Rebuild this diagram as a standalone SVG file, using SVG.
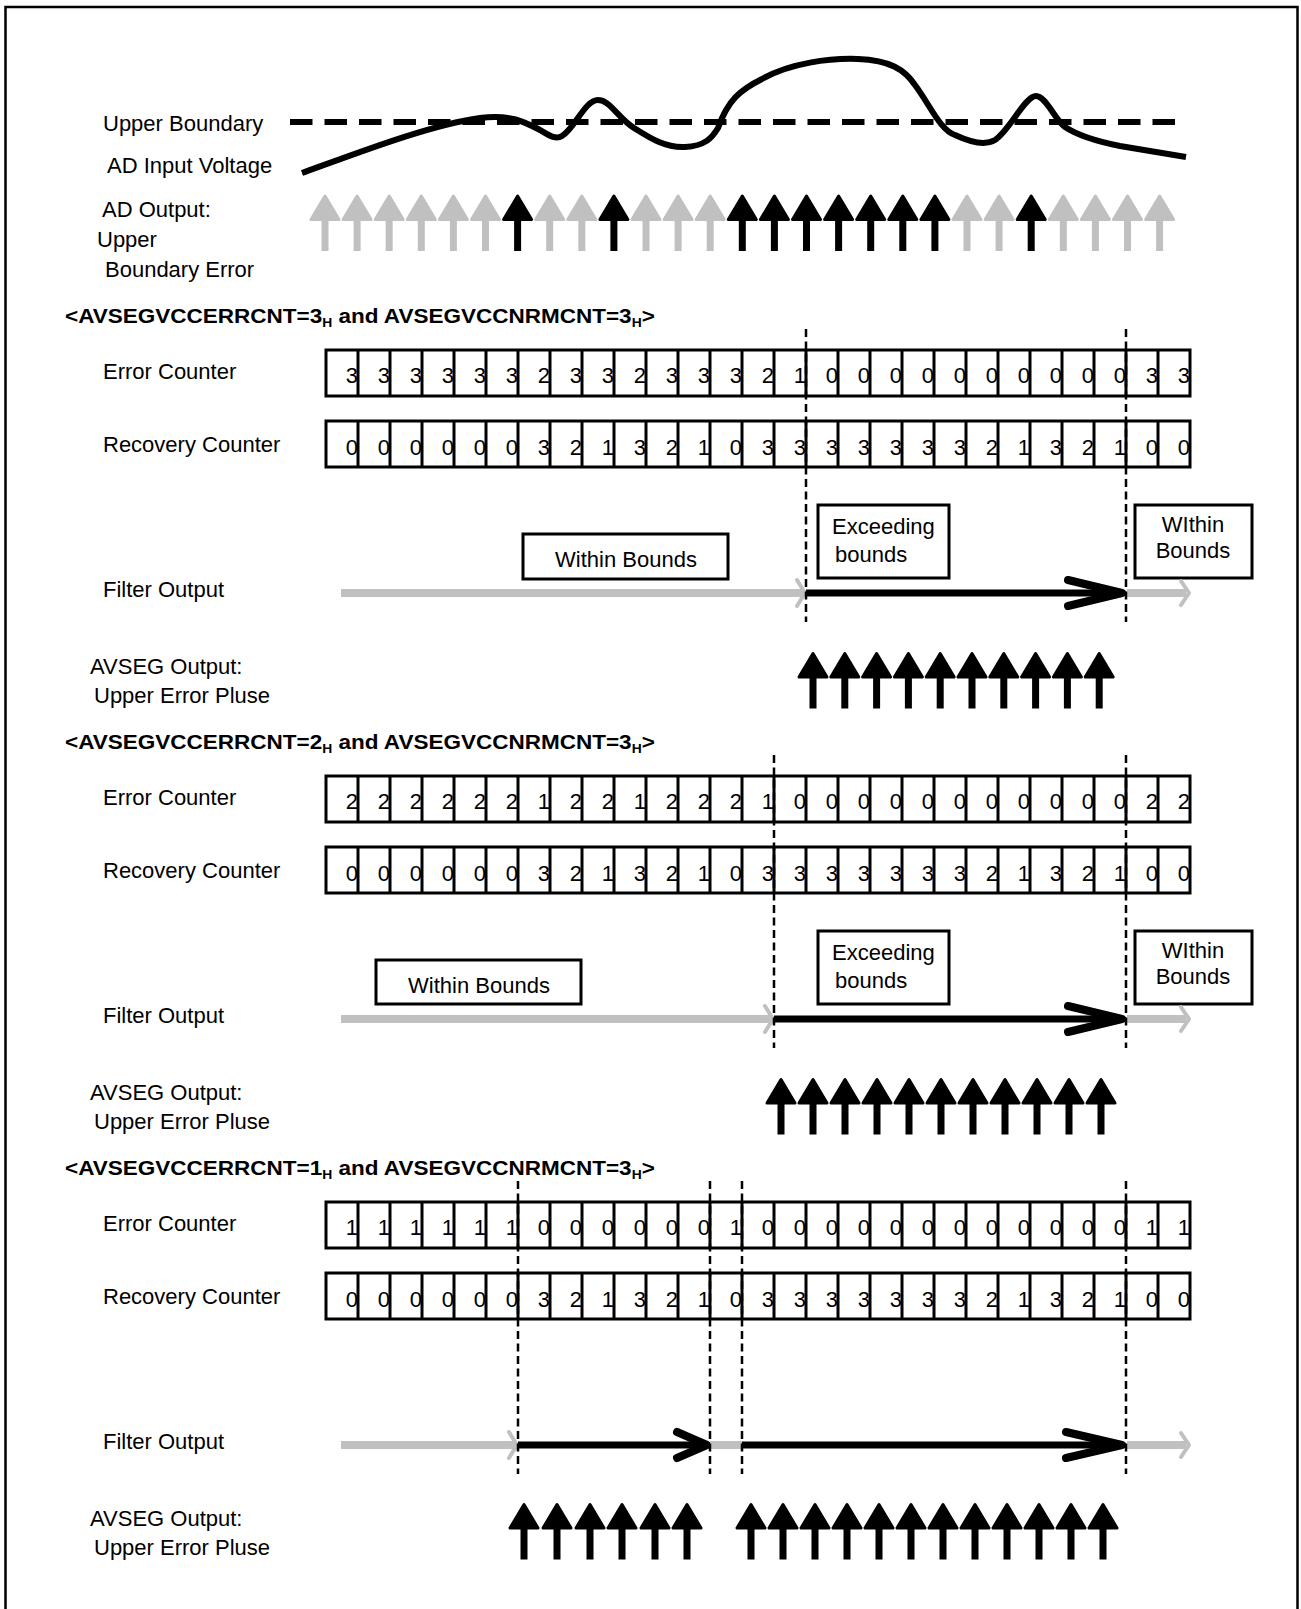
<svg xmlns="http://www.w3.org/2000/svg" xmlns:xlink="http://www.w3.org/1999/xlink" width="1301" height="1609" viewBox="0 0 1301 1609">
<style>
text{font-family:"Liberation Sans",Arial,sans-serif;font-size:22px;fill:#000}
.hdr{font-weight:bold;font-size:19.5px}
.sub{font-size:12px}
.d{text-anchor:end}
.mid{text-anchor:middle}
.box{fill:#fff;stroke:#000;stroke-width:3}
.cell{fill:#fff;stroke:#000;stroke-width:3}
.div{fill:none;stroke:#000;stroke-width:3}
.vd{fill:none;stroke:#000;stroke-width:2.5;stroke-dasharray:8 4.5}
.gl{fill:none;stroke:#c0c0c0;stroke-width:8}
.gc{fill:none;stroke:#c0c0c0;stroke-width:4;stroke-linecap:round;stroke-linejoin:round}
.bl{fill:none;stroke:#000;stroke-width:7}
.bc{fill:none;stroke:#000;stroke-width:8;stroke-linecap:round;stroke-linejoin:round}
.g{color:#c0c0c0}
.k{color:#000}
</style>
<defs>
<g id="aup">
<path d="M0,1.5 L14,25 L-14,25 Z" fill="currentColor" stroke="currentColor" stroke-width="3" stroke-linejoin="round"/>
<rect x="-3.5" y="20" width="7" height="36.5" fill="currentColor"/>
</g>
<g id="row">
<rect class="cell" x="326" y="0" width="864" height="46"/>
<path class="div" d="M358,0V46M390,0V46M422,0V46M454,0V46M486,0V46M518,0V46M550,0V46M582,0V46M614,0V46M646,0V46M678,0V46M710,0V46M742,0V46M774,0V46M806,0V46M838,0V46M870,0V46M902,0V46M934,0V46M966,0V46M998,0V46M1030,0V46M1062,0V46M1094,0V46M1126,0V46M1158,0V46"/>
</g>
</defs>
<rect id="frame" x="5.5" y="7" width="1292" height="1700" fill="none" stroke="#000" stroke-width="2.5"/>

<g id="input-panel">
<text x="103" y="130.5">Upper Boundary</text>
<text x="107" y="173">AD Input Voltage</text>
<text x="102" y="217">AD Output:</text>
<text x="97" y="247">Upper</text>
<text x="105" y="277">Boundary Error</text>
<line x1="290" y1="122" x2="1175" y2="122" stroke="#000" stroke-width="6" stroke-dasharray="22.5 12"/>
<path d="M302,173 C360,152 430,125 480,118 C510,114 525,122 540,130 C550,136 556,140 562,136 C575,128 585,100 598,100 C610,100 618,118 634,128 C650,138 665,148 685,147 C705,146 712,138 718,128 C728,100 740,90 762,79 C790,63 830,58 858,59 C890,60 905,70 915,85 C930,105 940,130 955,135 C970,142 985,146 995,140 C1010,130 1025,96 1036,96 C1046,96 1055,120 1065,127 C1080,137 1100,142 1120,146 L1186,157" fill="none" stroke="#000" stroke-width="6" stroke-linejoin="round"/>
<g id="ad-arrows">
<use href="#aup" x="325" y="194.5" class="g"/>
<use href="#aup" x="357.1" y="194.5" class="g"/>
<use href="#aup" x="389.2" y="194.5" class="g"/>
<use href="#aup" x="421.3" y="194.5" class="g"/>
<use href="#aup" x="453.4" y="194.5" class="g"/>
<use href="#aup" x="485.5" y="194.5" class="g"/>
<use href="#aup" x="517.6" y="194.5" class="k"/>
<use href="#aup" x="549.7" y="194.5" class="g"/>
<use href="#aup" x="581.8" y="194.5" class="g"/>
<use href="#aup" x="613.9" y="194.5" class="k"/>
<use href="#aup" x="646" y="194.5" class="g"/>
<use href="#aup" x="678.1" y="194.5" class="g"/>
<use href="#aup" x="710.2" y="194.5" class="g"/>
<use href="#aup" x="742.3" y="194.5" class="k"/>
<use href="#aup" x="774.4" y="194.5" class="k"/>
<use href="#aup" x="806.5" y="194.5" class="k"/>
<use href="#aup" x="838.6" y="194.5" class="k"/>
<use href="#aup" x="870.7" y="194.5" class="k"/>
<use href="#aup" x="902.8" y="194.5" class="k"/>
<use href="#aup" x="934.9" y="194.5" class="k"/>
<use href="#aup" x="967" y="194.5" class="g"/>
<use href="#aup" x="999.1" y="194.5" class="g"/>
<use href="#aup" x="1031.2" y="194.5" class="k"/>
<use href="#aup" x="1063.3" y="194.5" class="g"/>
<use href="#aup" x="1095.4" y="194.5" class="g"/>
<use href="#aup" x="1127.5" y="194.5" class="g"/>
<use href="#aup" x="1159.6" y="194.5" class="g"/>
</g>
</g>

<!-- ===== Section 1 ===== -->
<g id="section1">
<text class="hdr" transform="translate(65,323) scale(1.155,1)">&lt;AVSEGVCCERRCNT=3<tspan class="sub" dy="4">H</tspan><tspan dy="-4"> and AVSEGVCCNRMCNT=3</tspan><tspan class="sub" dy="4">H</tspan><tspan dy="-4">&gt;</tspan></text>
<text x="103" y="379">Error Counter</text>
<text x="103" y="452">Recovery Counter</text>
<text x="103" y="597">Filter Output</text>
<text x="90" y="674">AVSEG Output:</text>
<text x="94" y="703">Upper Error Pluse</text>
<g id="s1-error">
<use href="#row" y="350"/>
<text class="d" x="358" y="383">3</text><text class="d" x="390" y="383">3</text><text class="d" x="422" y="383">3</text><text class="d" x="454" y="383">3</text><text class="d" x="486" y="383">3</text><text class="d" x="518" y="383">3</text><text class="d" x="550" y="383">2</text><text class="d" x="582" y="383">3</text><text class="d" x="614" y="383">3</text><text class="d" x="646" y="383">2</text><text class="d" x="678" y="383">3</text><text class="d" x="710" y="383">3</text><text class="d" x="742" y="383">3</text><text class="d" x="774" y="383">2</text><text class="d" x="806" y="383">1</text><text class="d" x="838" y="383">0</text><text class="d" x="870" y="383">0</text><text class="d" x="902" y="383">0</text><text class="d" x="934" y="383">0</text><text class="d" x="966" y="383">0</text><text class="d" x="998" y="383">0</text><text class="d" x="1030" y="383">0</text><text class="d" x="1062" y="383">0</text><text class="d" x="1094" y="383">0</text><text class="d" x="1126" y="383">0</text><text class="d" x="1158" y="383">3</text><text class="d" x="1190" y="383">3</text>
</g>
<g id="s1-recovery">
<use href="#row" y="421"/>
<text class="d" x="358" y="455">0</text><text class="d" x="390" y="455">0</text><text class="d" x="422" y="455">0</text><text class="d" x="454" y="455">0</text><text class="d" x="486" y="455">0</text><text class="d" x="518" y="455">0</text><text class="d" x="550" y="455">3</text><text class="d" x="582" y="455">2</text><text class="d" x="614" y="455">1</text><text class="d" x="646" y="455">3</text><text class="d" x="678" y="455">2</text><text class="d" x="710" y="455">1</text><text class="d" x="742" y="455">0</text><text class="d" x="774" y="455">3</text><text class="d" x="806" y="455">3</text><text class="d" x="838" y="455">3</text><text class="d" x="870" y="455">3</text><text class="d" x="902" y="455">3</text><text class="d" x="934" y="455">3</text><text class="d" x="966" y="455">3</text><text class="d" x="998" y="455">2</text><text class="d" x="1030" y="455">1</text><text class="d" x="1062" y="455">3</text><text class="d" x="1094" y="455">2</text><text class="d" x="1126" y="455">1</text><text class="d" x="1158" y="455">0</text><text class="d" x="1190" y="455">0</text>
</g>
<g id="s1-within">
<rect class="box" x="523" y="534" width="205" height="45"/>
<text class="mid" x="626" y="567">Within Bounds</text>
</g>
<g id="s1-exceeding">
<rect class="box" x="818" y="505" width="131" height="73"/>
<text x="832" y="534">Exceeding</text>
<text x="835" y="562">bounds</text>
</g>
<g id="s1-within2">
<rect class="box" x="1135" y="505" width="117" height="73"/>
<text class="mid" x="1193" y="532">WIthin</text>
<text class="mid" x="1193" y="558">Bounds</text>
</g>
<g id="s1-pulses">
<use href="#aup" x="813" y="652" class="k"/>
<use href="#aup" x="844.8" y="652" class="k"/>
<use href="#aup" x="876.6" y="652" class="k"/>
<use href="#aup" x="908.4" y="652" class="k"/>
<use href="#aup" x="940.2" y="652" class="k"/>
<use href="#aup" x="972" y="652" class="k"/>
<use href="#aup" x="1003.8" y="652" class="k"/>
<use href="#aup" x="1035.6" y="652" class="k"/>
<use href="#aup" x="1067.4" y="652" class="k"/>
<use href="#aup" x="1099.2" y="652" class="k"/>
</g>
</g>

<!-- ===== Section 2 ===== -->
<g id="section2">
<text class="hdr" transform="translate(65,749) scale(1.155,1)">&lt;AVSEGVCCERRCNT=2<tspan class="sub" dy="4">H</tspan><tspan dy="-4"> and AVSEGVCCNRMCNT=3</tspan><tspan class="sub" dy="4">H</tspan><tspan dy="-4">&gt;</tspan></text>
<text x="103" y="805">Error Counter</text>
<text x="103" y="878">Recovery Counter</text>
<text x="103" y="1023">Filter Output</text>
<text x="90" y="1100">AVSEG Output:</text>
<text x="94" y="1129">Upper Error Pluse</text>
<g id="s2-error">
<use href="#row" y="776"/>
<text class="d" x="358" y="809">2</text><text class="d" x="390" y="809">2</text><text class="d" x="422" y="809">2</text><text class="d" x="454" y="809">2</text><text class="d" x="486" y="809">2</text><text class="d" x="518" y="809">2</text><text class="d" x="550" y="809">1</text><text class="d" x="582" y="809">2</text><text class="d" x="614" y="809">2</text><text class="d" x="646" y="809">1</text><text class="d" x="678" y="809">2</text><text class="d" x="710" y="809">2</text><text class="d" x="742" y="809">2</text><text class="d" x="774" y="809">1</text><text class="d" x="806" y="809">0</text><text class="d" x="838" y="809">0</text><text class="d" x="870" y="809">0</text><text class="d" x="902" y="809">0</text><text class="d" x="934" y="809">0</text><text class="d" x="966" y="809">0</text><text class="d" x="998" y="809">0</text><text class="d" x="1030" y="809">0</text><text class="d" x="1062" y="809">0</text><text class="d" x="1094" y="809">0</text><text class="d" x="1126" y="809">0</text><text class="d" x="1158" y="809">2</text><text class="d" x="1190" y="809">2</text>
</g>
<g id="s2-recovery">
<use href="#row" y="847"/>
<text class="d" x="358" y="881">0</text><text class="d" x="390" y="881">0</text><text class="d" x="422" y="881">0</text><text class="d" x="454" y="881">0</text><text class="d" x="486" y="881">0</text><text class="d" x="518" y="881">0</text><text class="d" x="550" y="881">3</text><text class="d" x="582" y="881">2</text><text class="d" x="614" y="881">1</text><text class="d" x="646" y="881">3</text><text class="d" x="678" y="881">2</text><text class="d" x="710" y="881">1</text><text class="d" x="742" y="881">0</text><text class="d" x="774" y="881">3</text><text class="d" x="806" y="881">3</text><text class="d" x="838" y="881">3</text><text class="d" x="870" y="881">3</text><text class="d" x="902" y="881">3</text><text class="d" x="934" y="881">3</text><text class="d" x="966" y="881">3</text><text class="d" x="998" y="881">2</text><text class="d" x="1030" y="881">1</text><text class="d" x="1062" y="881">3</text><text class="d" x="1094" y="881">2</text><text class="d" x="1126" y="881">1</text><text class="d" x="1158" y="881">0</text><text class="d" x="1190" y="881">0</text>
</g>
<g id="s2-within">
<rect class="box" x="376" y="960" width="205" height="44"/>
<text class="mid" x="479" y="993">Within Bounds</text>
</g>
<g id="s2-exceeding">
<rect class="box" x="818" y="931" width="131" height="73"/>
<text x="832" y="960">Exceeding</text>
<text x="835" y="988">bounds</text>
</g>
<g id="s2-within2">
<rect class="box" x="1135" y="931" width="117" height="73"/>
<text class="mid" x="1193" y="958">WIthin</text>
<text class="mid" x="1193" y="984">Bounds</text>
</g>
<g id="s2-pulses">
<use href="#aup" x="781" y="1078" class="k"/>
<use href="#aup" x="813" y="1078" class="k"/>
<use href="#aup" x="845" y="1078" class="k"/>
<use href="#aup" x="877" y="1078" class="k"/>
<use href="#aup" x="909" y="1078" class="k"/>
<use href="#aup" x="941" y="1078" class="k"/>
<use href="#aup" x="973" y="1078" class="k"/>
<use href="#aup" x="1005" y="1078" class="k"/>
<use href="#aup" x="1037" y="1078" class="k"/>
<use href="#aup" x="1069" y="1078" class="k"/>
<use href="#aup" x="1101" y="1078" class="k"/>
</g>
</g>

<!-- ===== Section 3 ===== -->
<g id="section3">
<text class="hdr" transform="translate(65,1175) scale(1.155,1)">&lt;AVSEGVCCERRCNT=1<tspan class="sub" dy="4">H</tspan><tspan dy="-4"> and AVSEGVCCNRMCNT=3</tspan><tspan class="sub" dy="4">H</tspan><tspan dy="-4">&gt;</tspan></text>
<text x="103" y="1231">Error Counter</text>
<text x="103" y="1304">Recovery Counter</text>
<text x="103" y="1449">Filter Output</text>
<text x="90" y="1526">AVSEG Output:</text>
<text x="94" y="1555">Upper Error Pluse</text>
<g id="s3-error">
<use href="#row" y="1202"/>
<text class="d" x="358" y="1235">1</text><text class="d" x="390" y="1235">1</text><text class="d" x="422" y="1235">1</text><text class="d" x="454" y="1235">1</text><text class="d" x="486" y="1235">1</text><text class="d" x="518" y="1235">1</text><text class="d" x="550" y="1235">0</text><text class="d" x="582" y="1235">0</text><text class="d" x="614" y="1235">0</text><text class="d" x="646" y="1235">0</text><text class="d" x="678" y="1235">0</text><text class="d" x="710" y="1235">0</text><text class="d" x="742" y="1235">1</text><text class="d" x="774" y="1235">0</text><text class="d" x="806" y="1235">0</text><text class="d" x="838" y="1235">0</text><text class="d" x="870" y="1235">0</text><text class="d" x="902" y="1235">0</text><text class="d" x="934" y="1235">0</text><text class="d" x="966" y="1235">0</text><text class="d" x="998" y="1235">0</text><text class="d" x="1030" y="1235">0</text><text class="d" x="1062" y="1235">0</text><text class="d" x="1094" y="1235">0</text><text class="d" x="1126" y="1235">0</text><text class="d" x="1158" y="1235">1</text><text class="d" x="1190" y="1235">1</text>
</g>
<g id="s3-recovery">
<use href="#row" y="1273"/>
<text class="d" x="358" y="1307">0</text><text class="d" x="390" y="1307">0</text><text class="d" x="422" y="1307">0</text><text class="d" x="454" y="1307">0</text><text class="d" x="486" y="1307">0</text><text class="d" x="518" y="1307">0</text><text class="d" x="550" y="1307">3</text><text class="d" x="582" y="1307">2</text><text class="d" x="614" y="1307">1</text><text class="d" x="646" y="1307">3</text><text class="d" x="678" y="1307">2</text><text class="d" x="710" y="1307">1</text><text class="d" x="742" y="1307">0</text><text class="d" x="774" y="1307">3</text><text class="d" x="806" y="1307">3</text><text class="d" x="838" y="1307">3</text><text class="d" x="870" y="1307">3</text><text class="d" x="902" y="1307">3</text><text class="d" x="934" y="1307">3</text><text class="d" x="966" y="1307">3</text><text class="d" x="998" y="1307">2</text><text class="d" x="1030" y="1307">1</text><text class="d" x="1062" y="1307">3</text><text class="d" x="1094" y="1307">2</text><text class="d" x="1126" y="1307">1</text><text class="d" x="1158" y="1307">0</text><text class="d" x="1190" y="1307">0</text>
</g>
<g id="s3-pulses">
<use href="#aup" x="524" y="1503" class="k"/>
<use href="#aup" x="557" y="1503" class="k"/>
<use href="#aup" x="590" y="1503" class="k"/>
<use href="#aup" x="622" y="1503" class="k"/>
<use href="#aup" x="655" y="1503" class="k"/>
<use href="#aup" x="687" y="1503" class="k"/>
<use href="#aup" x="751" y="1503" class="k"/>
<use href="#aup" x="783" y="1503" class="k"/>
<use href="#aup" x="815" y="1503" class="k"/>
<use href="#aup" x="847" y="1503" class="k"/>
<use href="#aup" x="879" y="1503" class="k"/>
<use href="#aup" x="911" y="1503" class="k"/>
<use href="#aup" x="943" y="1503" class="k"/>
<use href="#aup" x="975" y="1503" class="k"/>
<use href="#aup" x="1007" y="1503" class="k"/>
<use href="#aup" x="1039" y="1503" class="k"/>
<use href="#aup" x="1071" y="1503" class="k"/>
<use href="#aup" x="1103" y="1503" class="k"/>
</g>
</g>

<g id="connectors">
<!-- section 1 filter output -->
<path class="gl" d="M341,593H803"/>
<path class="gc" d="M797,580L805,593L797,606"/>
<path class="bl" d="M806,593H1118"/>
<path class="bc" d="M1068,580L1122,593L1068,606"/>
<path class="gl" d="M1127,593H1186"/>
<path class="gc" d="M1181,581L1189,593L1181,605"/>
<!-- section 2 filter output -->
<path class="gl" d="M341,1019H771"/>
<path class="gc" d="M765,1006L773,1019L765,1032"/>
<path class="bl" d="M774,1019H1118"/>
<path class="bc" d="M1068,1006L1122,1019L1068,1032"/>
<path class="gl" d="M1127,1019H1186"/>
<path class="gc" d="M1181,1007L1189,1019L1181,1031"/>
<!-- section 3 filter output -->
<path class="gl" d="M341,1445H515"/>
<path class="gc" d="M509,1432L517,1445L509,1458"/>
<path class="bl" d="M518,1445H703"/>
<path class="bc" d="M677,1432L707,1445L677,1458"/>
<path class="gl" d="M710,1445H742"/>
<path class="bl" d="M742,1445H1118"/>
<path class="bc" d="M1066,1432L1122,1445L1066,1458"/>
<path class="gl" d="M1127,1445H1186"/>
<path class="gc" d="M1181,1433L1189,1445L1181,1457"/>
</g>

<g id="boundaries">
<path class="vd" d="M806,329V622M1126,329V622"/>
<path class="vd" d="M774,755V1048M1126,755V1048"/>
<path class="vd" d="M518,1181V1474M710,1181V1474M742,1181V1474M1126,1181V1474"/>
</g>
</svg>
